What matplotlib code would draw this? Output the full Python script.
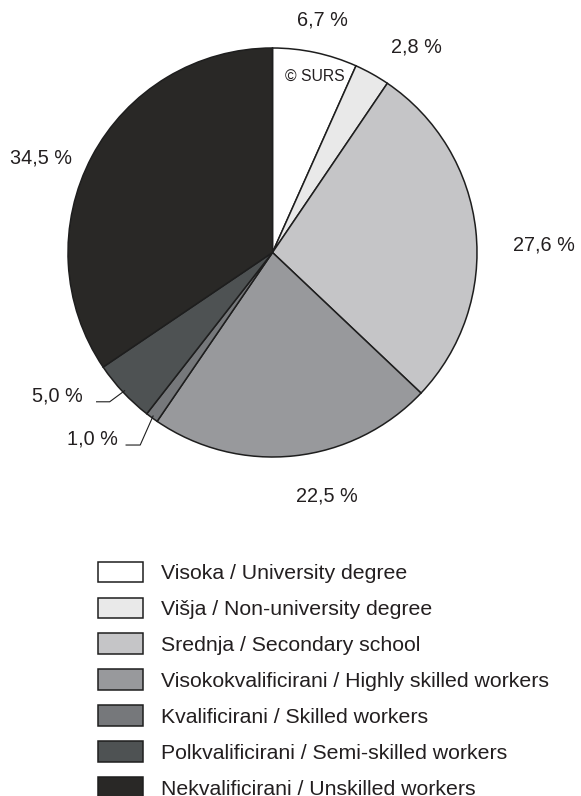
import numpy as np
import matplotlib
matplotlib.use("Agg")
import matplotlib.pyplot as plt

plt.rcParams['font.family'] = ['Liberation Sans', 'DejaVu Sans']

# ---- data ----
categories = [
    "Visoka / University degree",
    "Višja / Non-university degree",
    "Srednja / Secondary school",
    "Visokokvalificirani / Highly skilled workers",
    "Kvalificirani / Skilled workers",
    "Polkvalificirani / Semi-skilled workers",
    "Nekvalificirani / Unskilled workers",
]
values = [6.7, 2.8, 27.6, 22.5, 1.0, 5.0, 34.5]
colors = ["#ffffff", "#e9e9e9", "#c5c5c7", "#98999c", "#76787b", "#4e5253", "#292826"]

# ---- style / layout ----
W, H = 581, 796
R_PX = 204.5
CX, CY = 272.5, 252.5
TEXT = "#231f20"
EDGE = "#1e1e1e"

# label placement (radius factor, angle shift in degrees) per slice
label_r = [1.163, 1.229, 1.328, 1.218, None, None, 1.220]
label_shift = [0.0, -5.9, -4.7, 6.4, 0.0, 0.0, 5.8]
# leader labels: (elbow dx, elbow dy, horizontal length, text dx)
leaders = {4: (-0.063, -0.142, 0.069, -0.165),
           5: (-0.073, -0.054, 0.064, -0.19)}

fig = plt.figure(figsize=(W / 100, H / 100), dpi=100)
ax = fig.add_axes([0, 0, 1, 1])
wedges, _ = ax.pie(values, colors=colors, startangle=90, counterclock=False,
                   radius=1, center=(0, 0),
                   wedgeprops=dict(edgecolor=EDGE, linewidth=1.1))
ax.set_aspect('auto')
ax.set_xlim(-CX / R_PX, (W - CX) / R_PX)
ax.set_ylim(-(H - CY) / R_PX, CY / R_PX)
ax.axis('off')

total = sum(values)
cum = 0.0
for i, v in enumerate(values):
    mid = 90 - (cum + v / 2) / total * 360
    cum += v
    txt = f"{v:.1f}".replace('.', ',') + " %"
    if i in leaders:
        edx, edy, hl, tdx = leaders[i]
        p0 = np.array([np.cos(np.radians(mid)), np.sin(np.radians(mid))]) * 0.99
        p1 = p0 + np.array([edx, edy])
        p2 = p1 + np.array([-hl, 0])
        ax.plot([p0[0], p1[0], p2[0]], [p0[1], p1[1], p2[1]], color=EDGE, lw=0.8)
        ax.text(p2[0] + tdx, p2[1] + 0.03, txt, ha='center', va='center',
                fontsize=14.3, color=TEXT)
    else:
        a = np.radians(mid + label_shift[i])
        r = label_r[i]
        ax.text(r * np.cos(a), r * np.sin(a), txt, ha='center', va='center',
                fontsize=14.3, color=TEXT)

# copyright mark
ax.text(0.208, 0.861, "© SURS", ha='center', va='center', fontsize=11.3, color=TEXT)

fig.legend(handles=wedges, labels=categories, loc='upper left',
           bbox_to_anchor=(87 / W, 1 - 551 / H), frameon=False, borderpad=0,
           fontsize=15.3, handlelength=2.12, handleheight=1.12, handletextpad=0.85,
           labelspacing=0.675, labelcolor=TEXT)

fig.savefig("out.png", dpi=100)
